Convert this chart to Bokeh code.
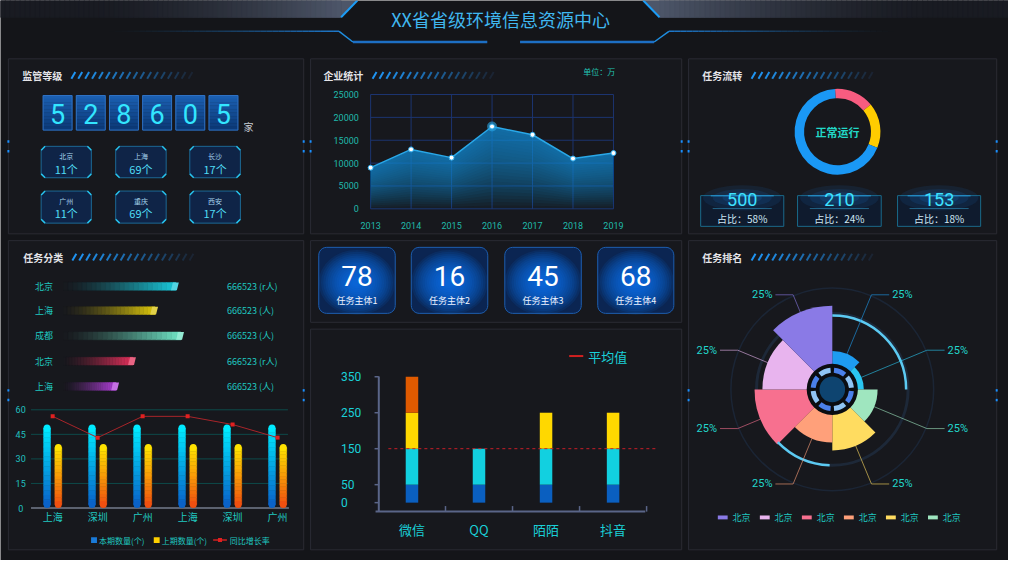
import numpy as np
from bokeh.plotting import figure
from bokeh.models import Range1d
from bokeh.core.properties import value
from bokeh.embed import file_html
from bokeh.resources import INLINE

# ---------------- data ----------------
page_title = "XX省省级环境信息资源中心"
panel_names = ["监管等级", "企业统计", "任务流转", "任务分类", "任务排名"]

supervise_total = 528605
supervise_unit = "家"
card_cities = ["北京", "上海", "长沙", "广州", "重庆", "西安"]
card_counts = [11, 69, 17, 11, 69, 17]

ent_years = [2013, 2014, 2015, 2016, 2017, 2018, 2019]
ent_values = [9000, 13000, 11200, 18000, 16200, 11000, 12200]
ent_ticks = [0, 5000, 10000, 15000, 20000, 25000]
ent_unit = "单位：万"

flow_status = "正常运行"
flow_share = [15, 17, 68]
flow_colors = ["#f85c80", "#ffcc00", "#1a98f5"]
flow_counts = [500, 210, 153]
flow_ratio = [58, 24, 18]

class_cities = ["北京", "上海", "成都", "北京", "上海"]
class_values = [88, 72, 92, 55, 42]
class_labels = ["666523 (r人)", "666523 (人)", "666523 (人)", "666523 (r人)", "666523 (人)"]
class_colors = ["#19c6d8", "#d8c20c", "#6fe3c4", "#e0305a", "#b040d8"]

growth_cities = ["上海", "深圳", "广州", "上海", "深圳", "广州"]
growth_this = [51, 51, 51, 51, 51, 51]
growth_last = [39, 39, 39, 39, 39, 39]
growth_rate = [56, 43, 56, 56, 51, 43]
growth_ticks = [0, 15, 30, 45, 60]
growth_legend = ["本期数量(个)", "上期数量(个)", "同比增长率"]

subject_values = [78, 16, 45, 68]
subject_names = ["任务主体1", "任务主体2", "任务主体3", "任务主体4"]

app_names = ["微信", "QQ", "陌陌", "抖音"]
app_s1 = [50, 50, 50, 50]
app_s2 = [100, 100, 100, 100]
app_s3 = [100, 0, 100, 100]
app_s4 = [100, 0, 0, 0]
app_colors = ["#0a5fc0", "#12d0e0", "#ffd800", "#e05a00"]
app_avg = 150
app_ticks = [0, 50, 150, 250, 350]
app_avg_label = "平均值"

rank_values = [39, 32, 46, 62, 54, 79, 71, 85]
rank_colors = ["#1e9cf0", "#2ac6f0", "#9fe6bf", "#ffdc60", "#ffa07a", "#f7708f", "#e8b4ee", "#8a7ae6"]
rank_labels = ["25%"] * 8
rank_legend = ["北京"] * 6
rank_legend_colors = ["#8a7ae6", "#e8b4ee", "#f7708f", "#ffa07a", "#ffdc60", "#9fe6bf"]

# ---------------- helpers ----------------
W, H = 1024, 576
FW, FH = 1008, 560
KY = (FW / W) / (FH / H)
BG = "#141519"
PANEL = "#17181d"
EDGE = "#2a2b33"
TEAL = "#1fc8c0"
CJK = "Noto Sans CJK SC"
NUM = "Roboto"


def Y(v):
    return H - v


def hex2rgb(h):
    h = h.lstrip("#")
    return tuple(int(h[i:i + 2], 16) for i in (0, 2, 4))


def lerp(c1, c2, t):
    a, b = hex2rgb(c1), hex2rgb(c2)
    t = min(max(t, 0.0), 1.0)
    return "#%02x%02x%02x" % tuple(int(round(a[i] + (b[i] - a[i]) * t)) for i in range(3))


xr, yr = {}, {}


def map_x(name, d0, d1, p0, p1):
    k = (d1 - d0) / (p1 - p0)
    s = d0 - p0 * k
    xr[name] = Range1d(start=s, end=s + W * k)


def map_y(name, d0, d1, p0, p1):
    P0, P1 = H - p0, H - p1
    k = (d1 - d0) / (P1 - P0)
    s = d0 - P0 * k
    yr[name] = Range1d(start=s, end=s + H * k)


map_x("ent_x", 2013, 2019, 376, 622.7)
map_y("ent_y", 0, 25000, 214.3, 96.7)
map_x("cls_x", 0, 100, 64, 196)
map_x("gr_x", 0, 5, 53, 281.5)
map_y("gr_y", 0, 60, 522, 421)
map_x("app_x", 0, 3, 418, 622.3)
map_y("app_y", 0, 350, 516.5, 387)

p = figure(width=FW, height=FH, x_range=Range1d(0, W), y_range=Range1d(0, H),
           extra_x_ranges=xr, extra_y_ranges=yr,
           x_axis_location=None, y_axis_location=None, tools="",
           output_backend="svg", toolbar_location=None, min_border=0,
           background_fill_color=BG, border_fill_color=BG, outline_line_color=None)
p.grid.visible = False


def text(xs, ys, ss, size, color, align="center", font=CJK, style="normal",
         baseline="middle", xn=None, yn=None, alpha=1.0):
    kw = {}
    if xn:
        kw["x_range_name"] = xn
    if yn:
        kw["y_range_name"] = yn
    p.text(x=list(xs), y=list(ys), text=list(ss), text_font=value(font),
           text_font_size=f"{size}px", text_color=color, text_align=align,
           text_baseline=baseline, text_font_style=style, text_alpha=alpha, **kw)


def rrect(x0, y0, x1, y1, r, n=6):
    xs, ys = [], []
    for cx, cy, a0 in [(x1 - r, y0 + r, -90), (x1 - r, y1 - r, 0), (x0 + r, y1 - r, 90), (x0 + r, y0 + r, 180)]:
        for k in range(n + 1):
            a = np.radians(a0 + 90 * k / n)
            xs.append(cx + r * np.cos(a))
            ys.append(Y(cy + r * np.sin(a) * KY))
    return xs, ys


def chamfer(x0, y0, x1, y1, c):
    xs = [x0 + c, x1 - c, x1, x1, x1 - c, x0 + c, x0, x0]
    ys = [y0, y0, y0 + c, y1 - c, y1, y1, y1 - c, y0 + c]
    return xs, [Y(v) for v in ys]


def ang(theta):  # clockwise degrees from 12 o'clock -> bokeh radians
    return np.radians(90 - theta)


# ---------------- header ----------------
hx = np.linspace(0, 346, 70)
hm = (hx[:-1] + hx[1:]) / 2
hc = [lerp("#191b22", "#4d5669", ((m - 90) / 256) ** 1.6 if m > 90 else 0) for m in hm]
p.quad(left=hx[:-1], right=hx[1:], top=H, bottom=Y(17.3), fill_color=hc, line_color=hc, line_width=1)
p.patch(x=[346, 362.5, 346], y=[H, H, Y(17.3)], fill_color="#4d5669", line_color=None)
rx = np.linspace(669.5, 1024, 70)
rm = (rx[:-1] + rx[1:]) / 2
rc = [lerp("#191b22", "#4d5669", (1 - (m - 669.5) / 280) ** 1.6 if m < 949.5 else 0) for m in rm]
p.quad(left=rx[:-1], right=rx[1:], top=H, bottom=Y(17.3), fill_color=rc, line_color=rc, line_width=1)
p.patch(x=[653, 669.5, 669.5], y=[H, H, Y(17.3)], fill_color="#4d5669", line_color=None)
p.segment(x0=[362.5, 653], y0=[H, H], x1=[346, 669.5], y1=[Y(17.3), Y(17.3)], line_color="#1c9cf5", line_width=2)

gl = np.linspace(104, 344, 40)
p.segment(x0=gl[:-1], y0=[Y(31.7)] * 39, x1=gl[1:], y1=[Y(31.7)] * 39, line_color="#1f80d8",
          line_alpha=list(np.linspace(0.0, 0.95, 39) ** 1.5), line_width=1.5)
gr = np.linspace(679, 914, 40)
p.segment(x0=gr[:-1], y0=[Y(31.7)] * 39, x1=gr[1:], y1=[Y(31.7)] * 39, line_color="#1f80d8",
          line_alpha=list(np.linspace(0.95, 0.0, 39) ** 1.5), line_width=1.5)
p.segment(x0=[344, 664], y0=[Y(31.7), Y(42.7)], x1=[358, 679], y1=[Y(42.7), Y(31.7)],
          line_color="#1f8ee0", line_width=1.5)
p.segment(x0=[358, 527.8], y0=[Y(42.7)] * 2, x1=[494.5, 664], y1=[Y(42.7)] * 2,
          line_color="#1d6fc4", line_width=2.5)
text([508], [Y(19)], [page_title], 18, "#40b8f0")

# ---------------- panels ----------------
panels = [(8, 60, 308, 240), (315, 60, 692, 240), (699, 60, 1012, 240),
          (8, 247, 308, 565), (315, 247, 692, 331), (315, 338, 692, 565), (699, 247, 1012, 565)]
p.quad(left=[a[0] for a in panels], right=[a[2] for a in panels],
       top=[Y(a[1]) for a in panels], bottom=[Y(a[3]) for a in panels],
       fill_color=PANEL, line_color=EDGE, line_width=1)
mk_x, mk_y = [], []
for i in (0, 1, 2, 3, 6):
    x0, y0, x1, y1 = panels[i]
    ym = (y0 + y1) / 2
    for xx in (x0, x1):
        for d in (-5, 5):
            mk_x.append(xx)
            mk_y.append(Y(ym + d))
p.rect(x=mk_x, y=mk_y, width=2, height=2.5, fill_color="#1a8fff", line_color=None)

# titles + stripes
title_pos = [(22, 77), (328, 77), (713, 77), (23, 264), (713, 264)]
for (tx, ty), name in zip(title_pos, panel_names):
    text([tx], [Y(ty)], [name], 10, "#e4e4e8", align="left", style="bold")
    n = 18
    sx = [tx + 50 + i * 7 for i in range(n)]
    cols = [lerp("#1f94f2", "#1b2433", (i / (n - 1)) ** 1.2) for i in range(n)]
    p.segment(x0=sx, y0=[Y(ty + 3.5)] * n, x1=[s + 4 for s in sx], y1=[Y(ty - 3.5)] * n,
              line_color=cols, line_width=2)

# ---------------- P1: supervision ----------------
digits = list(str(supervise_total))
bx = [43.3 + i * 33.7 for i in range(len(digits))]
ns = 10
for k in range(ns):
    y0 = 97.7 + (133.3 - 97.7) * k / ns
    y1 = 97.7 + (133.3 - 97.7) * (k + 1) / ns
    c = lerp("#1b5eb0", "#0c3a78", k / (ns - 1))
    p.quad(left=bx, right=[b + 29.4 for b in bx], top=Y(y0), bottom=Y(y1), fill_color=c, line_color=c, line_width=0.5)
p.quad(left=bx, right=[b + 29.4 for b in bx], top=Y(97.7), bottom=Y(133.3), fill_color=None,
       line_color="#2f72c4", line_width=1)
text([b + 14.7 for b in bx], [Y(116.5)] * len(bx), digits, 27, "#33e6ff", font=NUM)
text([252], [Y(130)], [supervise_unit], 10, "#c4cad2")

card_cols = [(41.3, 92.3), (117, 168.3), (192.3, 243.7)]
card_rows = [(150, 182.3), (196, 229)]
cxs, cys, cn_x, cn_y = [], [], [], []
for r, (y0, y1) in enumerate(card_rows):
    for c, (x0, x1) in enumerate(card_cols):
        xs, ys = chamfer(x0, y0, x1, y1, 4)
        cxs.append(xs)
        cys.append(ys)
        cn_x.append((x0 + x1) / 2)
        cn_y.append(y0)
p.patches(xs=cxs, ys=cys, fill_color="#0f2447", line_color="#1c6894", line_width=1)
acc_x0, acc_y0, acc_x1, acc_y1 = [], [], [], []
for xs, ys in zip(cxs, cys):
    for a, b in [(7, 0), (1, 2), (3, 4), (5, 6)]:
        acc_x0.append(xs[a]); acc_y0.append(ys[a]); acc_x1.append(xs[b]); acc_y1.append(ys[b])
p.segment(x0=acc_x0, y0=acc_y0, x1=acc_x1, y1=acc_y1, line_color="#27c4ee", line_width=1.5)
text(cn_x, [Y(y + 10) for y in cn_y], card_cities, 7, "#a4d2ec")
text(cn_x, [Y(y + 23) for y in cn_y], [f"{v}个" for v in card_counts], 11, "#4fdcf5")

# ---------------- P2: enterprise area chart ----------------
p.segment(x0=ent_years, y0=[0] * 7, x1=ent_years, y1=[25000] * 7, line_color="#1c3470", line_width=1,
          x_range_name="ent_x", y_range_name="ent_y")
p.segment(x0=[2013] * 6, y0=ent_ticks, x1=[2019] * 6, y1=ent_ticks, line_color="#1c3470", line_width=1,
          x_range_name="ent_x", y_range_name="ent_y")
NL = 24
for i in range(NL):
    f = i / NL
    p.varea(x=ent_years, y1=[v * f for v in ent_values], y2=ent_values, fill_color="#1a96d8",
            fill_alpha=0.055, x_range_name="ent_x", y_range_name="ent_y")
p.line(x=ent_years, y=ent_values, line_color="#2aa8e8", line_width=1.5, x_range_name="ent_x", y_range_name="ent_y")
imax = int(np.argmax(ent_values))
p.scatter(x=[ent_years[imax]], y=[ent_values[imax]], size=10, fill_color="#2aa8e8", fill_alpha=0.6,
          line_color=None, x_range_name="ent_x", y_range_name="ent_y")
p.scatter(x=ent_years, y=ent_values, size=5, fill_color="white", line_color="#2aa8e8", line_width=1,
          x_range_name="ent_x", y_range_name="ent_y")
text([364] * 6, ent_ticks, [str(t) for t in ent_ticks], 9, "#20b8aa", align="right", font=NUM, yn="ent_y")
text(ent_years, [Y(231.7)] * 7, [str(y) for y in ent_years], 9, "#20b8aa", font=NUM, xn="ent_x")
text([592], [Y(72.7)], [ent_unit], 8, "#22c4b4", align="left")

# ---------------- P3: task flow donut ----------------
tot = sum(flow_share)
acc = -3.3
st, en = [], []
for v in flow_share:
    st.append(ang(acc))
    acc += 360 * v / tot
    en.append(ang(acc))
p.annular_wedge(x=[850.3] * 3, y=[Y(135)] * 3, inner_radius=34, outer_radius=43.6, start_angle=st, end_angle=en,
                direction="clock", fill_color=flow_colors, line_color=None)
text([850.3], [Y(135)], [flow_status], 11, "#22d8c8", style="bold")
fb = [(711.3, 795.7), (809.7, 894.7), (911.3, 995.7)]
for (x0, x1), cnt, rt in zip(fb, flow_counts, flow_ratio):
    cx = (x0 + x1) / 2
    p.quad(left=x0, right=x1, top=Y(200.7), bottom=Y(232.3), fill_color="#0f1b2e", line_color="#1a6a8a", line_width=1)
    for w, h, a in [(80, 26, 0.10), (60, 18, 0.12), (40, 12, 0.15)]:
        p.ellipse(x=cx, y=Y(203), width=w, height=h, fill_color="#1a7fe0", fill_alpha=a, line_color=None)
    p.segment(x0=[cx - 32], y0=[Y(200.7)], x1=[cx + 32], y1=[Y(200.7)], line_color="#2aa0e0", line_alpha=0.6, line_width=1.5)
    p.segment(x0=[cx - 30], y0=[Y(214)], x1=[cx + 30], y1=[Y(214)], line_color="#3ab8f0", line_alpha=0.45, line_width=1)
    text([cx], [Y(205)], [str(cnt)], 18, "#3ee2ff", font=NUM)
    text([cx], [Y(224.5)], [f"占比：{rt}%"], 10, "#cfe8f5")

# ---------------- P4: task classification ----------------
cls_y = [294, 319, 345, 371, 397]
u = 100 / 132.0
NS = 24
seg_l, seg_r, seg_y, seg_c = [], [], [], []
for v, yy, col in zip(class_values, cls_y, class_colors):
    body = v - 2 * u
    for i in range(NS):
        seg_l.append(body * i / NS)
        seg_r.append(body * (i + 1) / NS)
        seg_y.append(Y(yy))
        seg_c.append(lerp(PANEL, col, ((i + 1) / NS) ** 1.4))
p.hbar(y=seg_y, left=seg_l, right=seg_r, height=8, fill_color=seg_c, line_color=seg_c, line_width=0.5,
       x_range_name="cls_x")
cap_xs, cap_ys = [], []
for v, yy in zip(class_values, cls_y):
    cap_xs.append([v - 5 * u, v + 1 * u, v - 1 * u, v - 7 * u])
    cap_ys.append([Y(yy - 4), Y(yy - 4), Y(yy + 4), Y(yy + 4)])
p.patches(xs=cap_xs, ys=cap_ys, fill_color=[lerp(c, "#ffffff", 0.25) for c in class_colors], line_color=None,
          x_range_name="cls_x")
text([35] * 5, [Y(v) for v in cls_y], class_cities, 9, TEAL, align="left")
text([230] * 5, [Y(v) for v in cls_y], class_labels, 9, TEAL, align="left")

# growth chart
p.segment(x0=[31] * 4, y0=growth_ticks[1:], x1=[292] * 4, y1=growth_ticks[1:], line_color="#0d4a4a",
          line_width=1, y_range_name="gr_y")
p.segment(x0=[31], y0=[0], x1=[293], y1=[0], line_color="#5c6270", line_width=2, y_range_name="gr_y")
gx = np.arange(len(growth_cities))
bw = 7 / 45.7
cap = 3.5 * 60 / 101
NB = 16
for vals, off, cb, ct in [(growth_this, -0.125, "#0a62c8", "#00eaff"), (growth_last, 0.125, "#f05010", "#ffe200")]:
    xs_, tops, bots, cs = [], [], [], []
    for i, v in enumerate(vals):
        lo, hi = cap, v - cap
        for k in range(NB):
            xs_.append(i + off)
            bots.append(lo + (hi - lo) * k / NB)
            tops.append(lo + (hi - lo) * (k + 1) / NB)
            cs.append(lerp(cb, ct, (k + 0.5) / NB))
    p.vbar(x=xs_, width=bw, top=tops, bottom=bots, fill_color=cs, line_color=cs, line_width=0.5,
           x_range_name="gr_x", y_range_name="gr_y")
    p.scatter(x=list(gx + off), y=[cap] * len(vals), size=7, fill_color=cb, line_color=None,
              x_range_name="gr_x", y_range_name="gr_y")
    p.scatter(x=list(gx + off), y=[v - cap for v in vals], size=7, fill_color=ct, line_color=None,
              x_range_name="gr_x", y_range_name="gr_y")
p.line(x=list(gx), y=growth_rate, line_color="#a8252a", line_width=1, x_range_name="gr_x", y_range_name="gr_y")
p.scatter(x=list(gx), y=growth_rate, marker="square", size=4, fill_color="#e02020", line_color=None,
          x_range_name="gr_x", y_range_name="gr_y")
text([20.5] * 5, growth_ticks, [str(t) for t in growth_ticks], 9, "#20c0c0", font=NUM, yn="gr_y")
text(list(gx), [Y(531)] * 6, growth_cities, 10, "#20c8c0", xn="gr_x")
p.rect(x=[95, 158.7], y=[Y(555)] * 2, width=6, height=6, fill_color=["#1a7ad8", "#ffd000"], line_color=None)
text([100, 163.7], [Y(555)] * 2, growth_legend[:2], 8, TEAL, align="left")
p.segment(x0=[216], y0=[Y(555)], x1=[230], y1=[Y(555)], line_color="#d02020", line_width=1.5)
p.scatter(x=[223], y=[Y(555)], marker="square", size=4, fill_color="#e02020", line_color=None)
text([233], [Y(555)], [growth_legend[2]], 8, TEAL, align="left")

# ---------------- P5: subject cards ----------------
sc = [(323.3, 401), (417.3, 495), (512.3, 590), (606.7, 684)]
for (x0, x1), v, nm in zip(sc, subject_values, subject_names):
    xs, ys = rrect(x0, 254, x1, 321.7, 8)
    p.patch(x=xs, y=ys, fill_color="#0b2552", line_color=None)
    cx = (x0 + x1) / 2
    NE = 16
    for i in range(NE):
        s = 1 - i * 0.058
        p.ellipse(x=cx, y=Y(290), width=(x1 - x0) * s, height=67 * s, fill_color="#0a72f4", fill_alpha=0.1,
                  line_color=None)
    p.patch(x=xs, y=ys, fill_color=None, line_color="#1d5eb0", line_width=1)
    text([cx], [Y(283)], [str(v)], 28, "#ffffff", font=NUM)
    text([cx], [Y(309)], [nm], 9, "#f0f4ff")

# ---------------- P6: stacked bars ----------------
AX = "#5a6588"
p.segment(x0=[384.3], y0=[Y(386.7)], x1=[384.3], y1=[Y(525.7)], line_color=AX, line_width=2)
p.segment(x0=[381], y0=[Y(525.7)], x1=[655], y1=[Y(525.7)], line_color=AX, line_width=2)
p.segment(x0=[380] * 5, y0=app_ticks, x1=[384.3] * 5, y1=app_ticks, line_color=AX, line_width=1.5,
          y_range_name="app_y")
bnd = [i + 0.5 for i in range(len(app_names))]
p.segment(x0=bnd, y0=[Y(525.7)] * 4, x1=bnd, y1=[Y(520)] * 4, line_color=AX, line_width=1.5, x_range_name="app_x")
ax_ = np.arange(len(app_names))
bottom = np.zeros(len(app_names))
for seg, col in zip([app_s1, app_s2, app_s3, app_s4], app_colors):
    segv = np.array(seg, dtype=float)
    m = segv > 0
    p.vbar(x=list(ax_[m]), width=12.7 / 68.1, bottom=list(bottom[m]), top=list((bottom + segv)[m]),
           fill_color=col, line_color=None, x_range_name="app_x", y_range_name="app_y")
    bottom = bottom + segv
p.segment(x0=[394], y0=[app_avg], x1=[666.7], y1=[app_avg], line_color="#c81e28", line_width=1,
          line_dash="3 3", y_range_name="app_y")
text([346] * 5, app_ticks, [str(t) for t in app_ticks], 12, "#1ad0d8", align="left", font=NUM, yn="app_y")
text(list(ax_), [Y(544.3)] * 4, app_names, 13, "#1ad0d8", xn="app_x")
p.segment(x0=[577.7], y0=[Y(365.7)], x1=[592], y1=[Y(365.7)], line_color="#d02020", line_width=2)
text([597], [Y(365.7)], [app_avg_label], 13, "#1ad0d8", align="left")

# ---------------- P7: rose chart ----------------
RC = (845, 400)
cxr, cyr = RC[0], Y(RC[1])
p.circle(x=[cxr], y=[cyr], radius=103, fill_color=None, line_color="#1b2535", line_width=1.5)
p.circle(x=[cxr], y=[cyr], radius=77, fill_color=None, line_color="#1d2838", line_width=3)
n = len(rank_values)
st = [ang(360 * i / n) for i in range(n)]
en = [ang(360 * (i + 1) / n) for i in range(n)]
p.wedge(x=[cxr] * n, y=[cyr] * n, radius=rank_values, start_angle=st, end_angle=en, direction="clock",
        fill_color=rank_colors, line_color=None)
p.arc(x=[cxr], y=[cyr], radius=75, start_angle=ang(0), end_angle=ang(90), direction="clock",
      line_color="#5ccaf2", line_width=2.5)
p.arc(x=[cxr], y=[cyr], radius=77, start_angle=ang(182), end_angle=ang(226), direction="clock",
      line_color="#5ccaf2", line_width=2.5)
p.circle(x=[cxr], y=[cyr], radius=26, fill_color="#0b0d11", line_color=None)
rs = [ang(45 * i + 5) for i in range(8)]
re_ = [ang(45 * i + 40) for i in range(8)]
p.annular_wedge(x=[cxr] * 8, y=[cyr] * 8, inner_radius=17, outer_radius=22, start_angle=rs, end_angle=re_,
                direction="clock", fill_color=["#4a80ea", "#8fc4f4"] * 4, line_color=None)
p.circle(x=[cxr], y=[cyr], radius=13, fill_color="#0e4470", line_color=None)
lx, ly, lab_x, lab_y, lab_a = [], [], [], [], []
for i, r in enumerate(rank_values):
    mid = np.radians(360 * (i + 0.5) / n)
    dx, dy = np.sin(mid), np.cos(mid) * KY
    sx_, sy_ = cxr + r * dx, cyr + r * dy
    ex, ey = cxr + 104 * dx, cyr + 104 * dy
    side = 1 if dx > 0 else -1
    hx_ = ex + side * 18
    lx.append([sx_, ex, hx_])
    ly.append([sy_, ey, ey])
    lab_x.append(hx_ + side * 3)
    lab_y.append(ey)
    lab_a.append("left" if side > 0 else "right")
p.multi_line(xs=lx, ys=ly, line_color=rank_colors, line_alpha=0.6, line_width=1)
for a in ("left", "right"):
    idx = [i for i in range(n) if lab_a[i] == a]
    text([lab_x[i] for i in idx], [lab_y[i] for i in idx], [rank_labels[i] for i in idx], 11, "#22d6cc",
         align=a, font=NUM)
lgx = [728.7 + i * 42.7 for i in range(len(rank_legend))]
p.rect(x=[x + 5 for x in lgx], y=[Y(531.7)] * 6, width=10, height=4, fill_color=rank_legend_colors, line_color=None)
text([x + 15 for x in lgx], [Y(531.7)] * 6, rank_legend, 9, TEAL, align="left")

open("out.html", "w", encoding="utf-8").write(file_html(p, INLINE, title=page_title))
